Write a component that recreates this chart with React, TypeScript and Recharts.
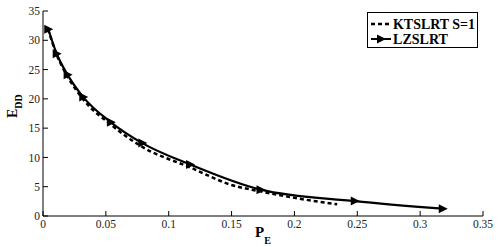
import React from 'react';
import { ComposedChart, Line, XAxis, YAxis } from 'recharts';

const ktsX = [0.004, 0.011, 0.0196, 0.032, 0.054, 0.079, 0.117, 0.15, 0.173, 0.2, 0.234];
const ktsY = [31.9, 27.5, 23.8, 19.9, 15.6, 11.8, 8.3, 5.3, 4.2, 3.1, 2.0];
const lzX = [0.0042, 0.0109, 0.0196, 0.032, 0.054, 0.079, 0.117, 0.173, 0.248, 0.318];
const lzY = [31.9, 27.7, 24.1, 20.3, 16.0, 12.45, 8.8, 4.5, 2.55, 1.25];
const xTicks = [0, 0.05, 0.1, 0.15, 0.2, 0.25, 0.3, 0.35];
const yTicks = [0, 5, 10, 15, 20, 25, 30, 35];
const seriesNames = ['KTSLRT S=1', 'LZSLRT'];

const ktsData = ktsX.map((x, i) => ({ x, y: ktsY[i] }));
const lzData = lzX.map((x, i) => ({ x, y: lzY[i] }));

const FONT = "'Liberation Serif', 'Times New Roman', 'DejaVu Serif', serif";

const Tri = (props: any) => {
  const { cx, cy } = props;
  if (cx == null || cy == null) return <g />;
  return <path d={`M${cx - 4},${cy - 4.5} L${cx + 5},${cy} L${cx - 4},${cy + 4.5} Z`} fill="#000" />;
};

const fmtX = (v: number) => (v === 0 ? '0' : String(v));

const LegendBox = () => (
  <div
    style={{
      position: 'absolute',
      left: 367,
      top: 12,
      width: 111,
      height: 36,
      border: '1px solid #000',
      background: '#fff',
      boxSizing: 'border-box',
    }}
  >
    <svg width={111} height={36} style={{ position: 'absolute', left: 0, top: 0 }}>
      <line x1={3} y1={11} x2={23} y2={11} stroke="#000" strokeWidth={2.5} strokeDasharray="4 3" />
      <text x={25} y={16} textLength={82} lengthAdjust="spacingAndGlyphs" style={{ fontFamily: FONT, fontWeight: 'bold', fontSize: 14 }} fill="#000">{seriesNames[0]}</text>
      <line x1={3} y1={26} x2={23} y2={26} stroke="#000" strokeWidth={2} />
      <path d="M9,21.5 L18,26 L9,30.5 Z" fill="#000" />
      <text x={25} y={31} textLength={55} lengthAdjust="spacingAndGlyphs" style={{ fontFamily: FONT, fontWeight: 'bold', fontSize: 14 }} fill="#000">{seriesNames[1]}</text>
    </svg>
  </div>
);

const tickStyle = { style: { fontFamily: FONT, fontSize: 11.5 }, fill: '#222' };
const emptyTick = () => <g />;

export default function App() {
  return (
    <div style={{ position: 'absolute', left: 0, top: 0, width: 499, height: 247, background: '#fff', fontFamily: FONT }}>
      <ComposedChart width={499} height={247} margin={{ top: 11, right: 16, bottom: 0, left: 0 }}>
        <XAxis
          xAxisId="b"
          type="number"
          dataKey="x"
          domain={[0, 0.35]}
          ticks={xTicks}
          tickFormatter={fmtX}
          height={31}
          tickSize={-5}
          tickMargin={9}
          stroke="#000"
          tick={tickStyle}
          allowDataOverflow
        />
        <XAxis
          xAxisId="t"
          orientation="top"
          type="number"
          dataKey="x"
          domain={[0, 0.35]}
          ticks={xTicks}
          height={0}
          tickSize={-5}
          stroke="#000"
          tick={emptyTick}
        />
        <YAxis
          yAxisId="l"
          type="number"
          domain={[0, 35]}
          ticks={yTicks}
          width={43}
          tickSize={-5}
          tickMargin={8}
          stroke="#000"
          tick={tickStyle}
        />
        <YAxis
          yAxisId="r"
          orientation="right"
          type="number"
          domain={[0, 35]}
          ticks={yTicks}
          width={0}
          tickSize={-5}
          stroke="#000"
          tick={emptyTick}
        />
        <Line
          xAxisId="b"
          yAxisId="l"
          data={ktsData}
          dataKey="y"
          type="monotone"
          stroke="#000"
          strokeWidth={2.5}
          strokeDasharray="4 3"
          dot={false}
          isAnimationActive={false}
          name={seriesNames[0]}
        />
        <Line
          xAxisId="b"
          yAxisId="l"
          data={lzData}
          dataKey="y"
          type="monotone"
          stroke="#000"
          strokeWidth={2.2}
          dot={<Tri />}
          isAnimationActive={false}
          name={seriesNames[1]}
        />
      </ComposedChart>
      <LegendBox />
      <svg width={499} height={247} style={{ position: 'absolute', left: 0, top: 0, pointerEvents: 'none' }}>
        <text x={255} y={237} style={{ fontFamily: FONT, fontWeight: 'bold', fontSize: 15 }} fill="#000">
          P<tspan style={{ fontSize: 10 }} dy={7}>E</tspan>
        </text>
        <text transform="translate(17,118) rotate(-90)" style={{ fontFamily: FONT, fontWeight: 'bold', fontSize: 14 }} fill="#000">
          E<tspan style={{ fontSize: 10 }} dy={5}>DD</tspan>
        </text>
      </svg>
    </div>
  );
}
